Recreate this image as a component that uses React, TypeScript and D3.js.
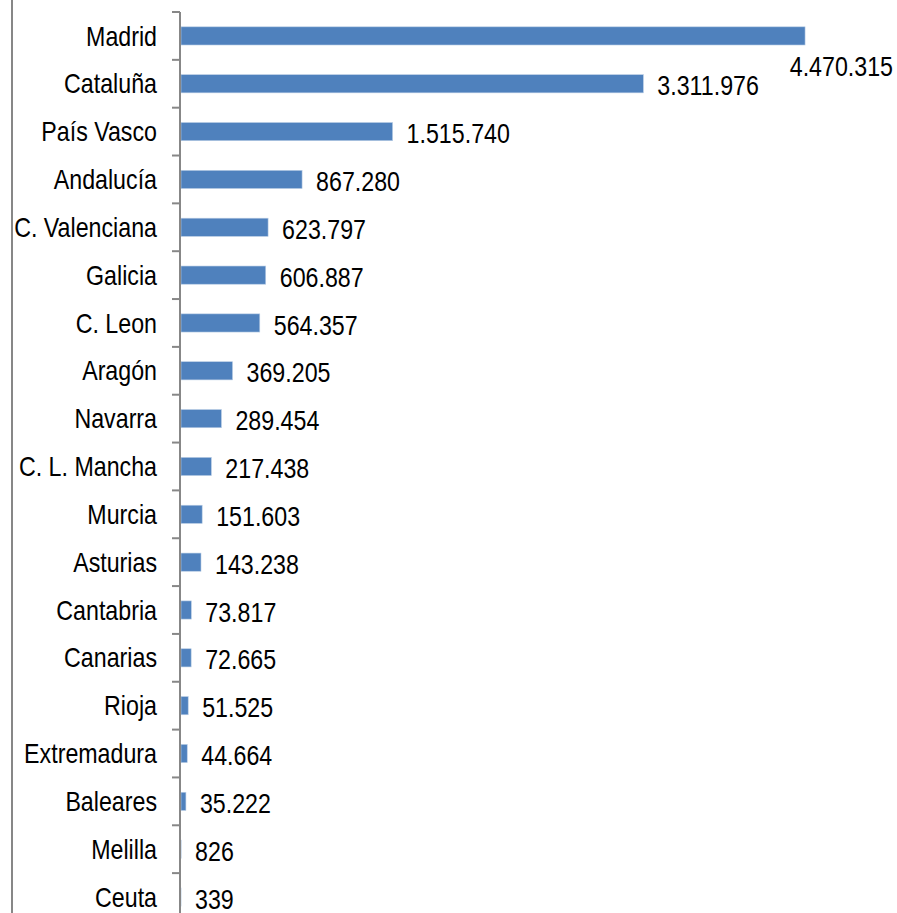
import * as d3 from 'd3';
import React from 'react';

const regions: string[] = [
  'Madrid', 'Cataluña', 'País Vasco', 'Andalucía', 'C. Valenciana', 'Galicia',
  'C. Leon', 'Aragón', 'Navarra', 'C. L. Mancha', 'Murcia', 'Asturias',
  'Cantabria', 'Canarias', 'Rioja', 'Extremadura', 'Baleares', 'Melilla', 'Ceuta',
];

const values: number[] = [
  4470315, 3311976, 1515740, 867280, 623797, 606887, 564357, 369205, 289454,
  217438, 151603, 143238, 73817, 72665, 51525, 44664, 35222, 826, 339,
];

const width = 897;
const height = 913;
const fontFamily = "'Liberation Sans', Arial, sans-serif";
const squeeze = 0.86; // narrow the font to approximate Calibri widths

// Spanish style thousands separator
const fmt = (v: number) => d3.format(',')(v).replace(/,/g, '.');

const Label: React.FC<{x: number, y: number, anchor: string, children: string}> = p => (
  <text transform={`translate(${p.x},${p.y}) scale(${squeeze},1)`} textAnchor={p.anchor}
    dominantBaseline='central' fontSize={27} fill='#000'>{p.children}</text>
);

const App: React.FC = () => {
  const x = d3.scaleLinear().domain([0, 5000000]).range([181, 879]);
  const y = d3.scaleBand<string>()
    .domain(regions)
    .range([12, 12 + 47.84 * regions.length])
    .paddingInner(0.62)
    .paddingOuter(0.31);

  const step = y.step();
  const axisX = 180;
  const top = 12;
  const bottom = top + step * regions.length;
  const ticks = d3.range(regions.length + 1).map(i => top + i * step);

  return (
    <svg width={width} height={height} style={{position: 'absolute', left: 0, top: 0}}
      fontFamily={fontFamily}>
      <rect x={0} y={0} width={width} height={height} fill='#fff'/>
      <line x1={12} x2={12} y1={0} y2={height} stroke='#878787' strokeWidth={2}/>

      {regions.map((r, i) => {
        const v = values[i];
        const cy = (y(r) as number) + y.bandwidth() / 2;
        const xEnd = x(v);
        const overflow = xEnd + 15 + 110 > width;
        return (
          <g key={r}>
            <rect x={x(0)} y={y(r)} width={Math.max(0, xEnd - x(0))} height={y.bandwidth()}
              fill='#4F81BD' stroke='#B9CDE5' strokeWidth={0.6}/>
            <Label x={157} y={cy} anchor='end'>{r}</Label>
            {overflow
              ? <Label x={width - 4} y={cy + 30} anchor='end'>{fmt(v)}</Label>
              : <Label x={xEnd + 14} y={cy + 2} anchor='start'>{fmt(v)}</Label>}
          </g>
        );
      })}

      <line x1={axisX} x2={axisX} y1={top} y2={bottom} stroke='#878787' strokeWidth={2}/>
      {ticks.map((t, i) => (
        <line key={i} x1={172} x2={axisX} y1={t} y2={t} stroke='#878787' strokeWidth={2}/>
      ))}
    </svg>
  );
};

export default App;
